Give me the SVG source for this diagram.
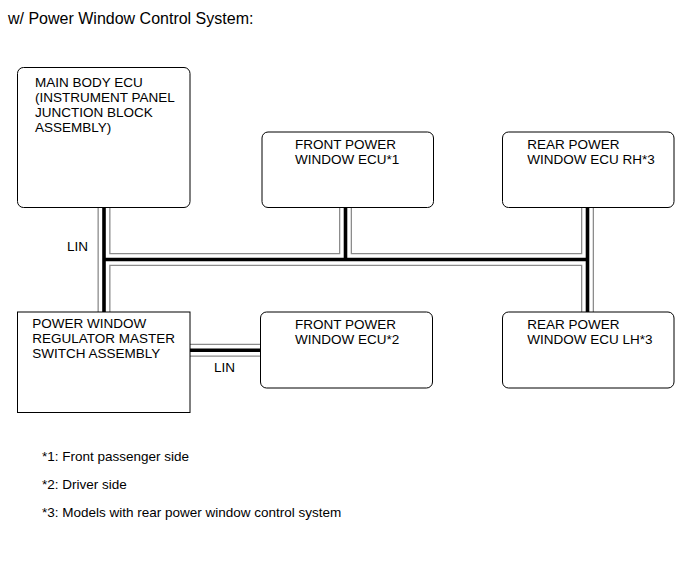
<svg xmlns="http://www.w3.org/2000/svg" width="691" height="564" viewBox="0 0 691 564">
<style>
text{font-family:"Liberation Sans",Arial,sans-serif;font-size:13.5px;fill:#000}
.title{font-size:16px}
.box{fill:#fff;stroke:#000;stroke-width:1}
.c-out{fill:none;stroke:#8c8c8c;stroke-width:13}
.c-mid{fill:none;stroke:#fff;stroke-width:10.4}
.c-in{fill:none;stroke:#000;stroke-width:3.6}
</style>
<defs>
<path id="bus" d="M104,200 V320 M104,259.5 H587.5 M345.5,200 V259.5 M587.5,200 V320 M185,350.3 H266"/>
</defs>
<rect width="691" height="564" fill="#fff"/>
<text class="title" x="8" y="24">w/ Power Window Control System:</text>
<g id="connectors">
<use href="#bus" class="c-out"/>
<use href="#bus" class="c-mid"/>
<use href="#bus" class="c-in"/>
<text x="67" y="251">LIN</text>
<text x="214" y="371.5">LIN</text>
</g>
<g id="main-body-ecu">
<rect class="box" x="17.5" y="67.5" width="172.5" height="140" rx="6"/>
<text x="35" y="86.5">MAIN BODY ECU</text>
<text x="35" y="101.5">(INSTRUMENT PANEL</text>
<text x="35" y="116.8">JUNCTION BLOCK</text>
<text x="35" y="132">ASSEMBLY)</text>
</g>
<g id="front-ecu-1">
<rect class="box" x="262" y="132" width="171.5" height="75.5" rx="6"/>
<text x="295" y="149.3">FRONT POWER</text>
<text x="295" y="164.3">WINDOW ECU*1</text>
</g>
<g id="rear-ecu-rh">
<rect class="box" x="502.5" y="132" width="171.5" height="75.5" rx="6"/>
<text x="527.3" y="149.3">REAR POWER</text>
<text x="527.3" y="164.3">WINDOW ECU RH*3</text>
</g>
<g id="master-switch">
<rect class="box" x="17.5" y="312" width="172.5" height="100.5"/>
<text x="32.3" y="327.5">POWER WINDOW</text>
<text x="32.3" y="342.5">REGULATOR MASTER</text>
<text x="32.3" y="357.5">SWITCH ASSEMBLY</text>
</g>
<g id="front-ecu-2">
<rect class="box" x="260.5" y="312" width="172" height="76" rx="6"/>
<text x="295" y="329.3">FRONT POWER</text>
<text x="295" y="344.3">WINDOW ECU*2</text>
</g>
<g id="rear-ecu-lh">
<rect class="box" x="502.5" y="312" width="171.5" height="76" rx="6"/>
<text x="527.3" y="329.3">REAR POWER</text>
<text x="527.3" y="344.3">WINDOW ECU LH*3</text>
</g>
<g id="notes">
<text x="42" y="460.5">*1: Front passenger side</text>
<text x="42" y="488.5">*2: Driver side</text>
<text x="42" y="516.5">*3: Models with rear power window control system</text>
</g>
</svg>
